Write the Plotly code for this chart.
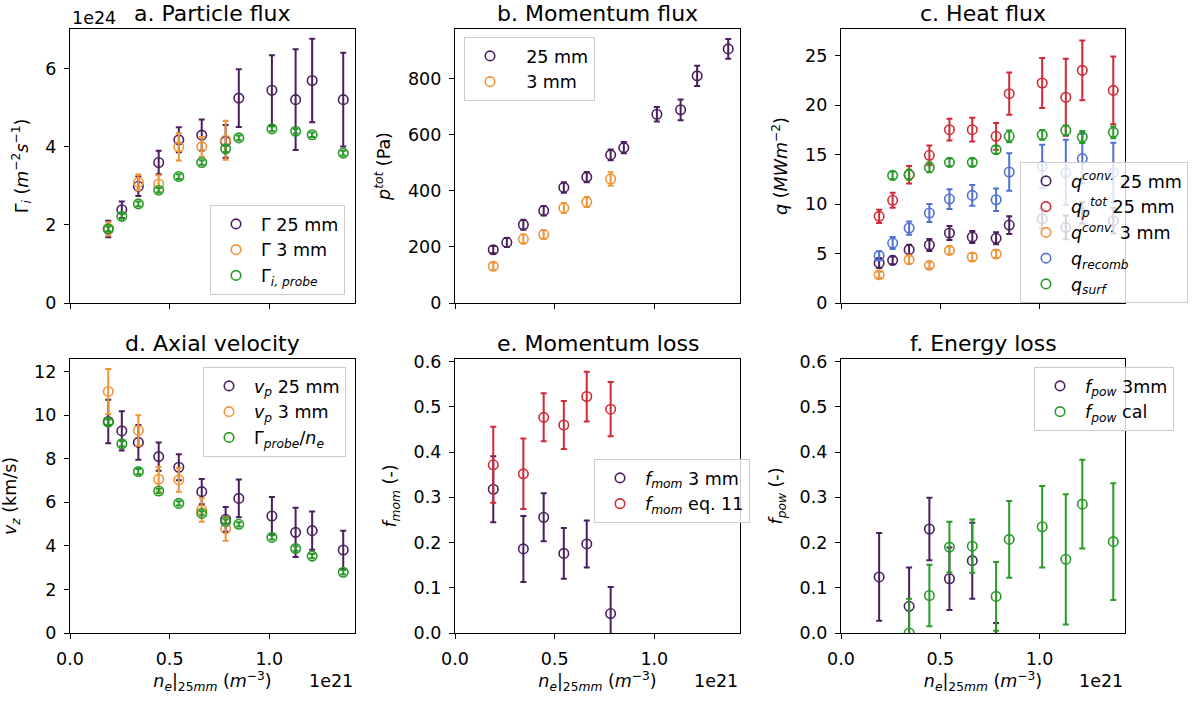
import plotly.graph_objects as go

# ---------------------------------------------------------------------------
# Electron density at 25 mm (units of 1e21 m^-3) for each discharge
ne_25mm = [0.192, 0.260, 0.343, 0.445, 0.546, 0.661, 0.781, 0.847, 1.013, 1.132, 1.215, 1.371]
ne_3mm = [0.192, 0.343, 0.445, 0.546, 0.661, 0.781]
ne_surf = [0.260, 0.343, 0.445, 0.546, 0.661, 0.781, 0.847, 1.013, 1.132, 1.215, 1.371]
ne_cal = [0.343, 0.445, 0.546, 0.661, 0.781, 0.847, 1.013, 1.132, 1.215, 1.371]

# a. Particle flux (units of 1e24 m^-2 s^-1)
gamma_25 = [1.895, 2.39, 2.99, 3.60, 4.18, 4.30, 4.14, 5.25, 5.45, 5.21, 5.70, 5.21]
gamma_25_err = [0.21, 0.21, 0.25, 0.30, 0.32, 0.40, 0.42, 0.74, 0.90, 1.29, 1.07, 1.20]
gamma_3 = [1.90, 3.09, 3.05, 4.00, 4.00, 4.17]
gamma_3_err = [0.17, 0.20, 0.22, 0.35, 0.25, 0.50]
gamma_probe = [1.90, 2.22, 2.54, 2.89, 3.24, 3.60, 3.95, 4.23, 4.46, 4.40, 4.31, 3.84]
gamma_probe_err = [0.06, 0.06, 0.06, 0.06, 0.06, 0.06, 0.08, 0.06, 0.06, 0.06, 0.06, 0.06]

# b. Momentum flux (Pa)
ptot_25 = [190, 216, 279, 329, 412, 449, 528, 554, 673, 689, 810, 906]
ptot_25_err = [13, 16, 18, 17, 19, 18, 19, 20, 26, 37, 36, 35]
ptot_3 = [131, 228, 244, 339, 360, 442]
ptot_3_err = [13, 16, 15, 18, 18, 24]

# c. Heat flux (MW m^-2)
qconv_25 = [4.04, 4.31, 5.39, 5.86, 7.08, 6.67, 6.54, 7.88, 8.52, 7.65, 9.10, 8.32]
qconv_25_err = [0.5, 0.4, 0.5, 0.6, 0.7, 0.6, 0.6, 0.9, 1.0, 1.2, 1.1, 1.3]
qtot_25 = [8.76, 10.38, 12.97, 14.93, 17.52, 17.52, 16.85, 21.16, 22.24, 20.8, 23.52, 21.5]
qtot_25_err = [0.67, 0.76, 0.88, 1.0, 1.1, 1.2, 1.35, 2.14, 2.53, 3.9, 3.03, 3.43]
qconv_3 = [2.86, 4.38, 3.81, 5.32, 4.65, 4.95]
qconv_3_err = [0.3, 0.4, 0.3, 0.4, 0.4, 0.4]
qrecomb = [4.78, 6.06, 7.58, 9.10, 10.51, 10.88, 10.44, 13.24, 13.8, 13.2, 14.6, 13.2]
qrecomb_err = [0.45, 0.6, 0.67, 0.9, 1.0, 1.06, 1.13, 1.89, 2.2, 3.3, 2.5, 3.0]
qsurf = [12.9, 12.97, 13.71, 14.22, 14.22, 15.5, 16.85, 17.0, 17.45, 16.78, 17.25]
qsurf_err = [0.4, 0.5, 0.5, 0.4, 0.4, 0.4, 0.6, 0.5, 0.5, 0.6, 0.6]

# d. Axial velocity (km/s)
vp_25 = [9.71, 9.28, 8.75, 8.10, 7.61, 6.49, 5.22, 6.18, 5.37, 4.62, 4.70, 3.81]
vp_25_err = [1.0, 0.9, 0.8, 0.65, 0.6, 0.58, 0.57, 0.87, 0.87, 1.13, 0.88, 0.88]
vp_3 = [11.09, 9.30, 7.06, 7.03, 5.65, 4.78]
vp_3_err = [1.03, 0.7, 0.57, 0.55, 0.54, 0.55]
v_probe = [9.68, 8.69, 7.41, 6.52, 5.95, 5.49, 5.11, 4.99, 4.39, 3.88, 3.53, 2.79]
v_probe_err = [0.12, 0.12, 0.12, 0.1, 0.1, 0.1, 0.1, 0.1, 0.1, 0.1, 0.1, 0.1]

# e. Momentum loss (-)
fmom_3 = [0.318, 0.186, 0.256, 0.176, 0.197, 0.043]
fmom_3_err = [0.073, 0.073, 0.053, 0.056, 0.052, 0.059]
fmom_eq11 = [0.372, 0.352, 0.477, 0.460, 0.523, 0.495]
fmom_eq11_err = [0.084, 0.078, 0.053, 0.053, 0.055, 0.060]

# f. Energy loss (-)
fpow_3 = [0.124, 0.059, 0.230, 0.120, 0.160, -0.050]
fpow_3_err = [0.097, 0.086, 0.069, 0.069, 0.084, 0.072]
fpow_cal = [0.0, 0.083, 0.190, 0.192, 0.081, 0.207, 0.235, 0.163, 0.285, 0.202]
fpow_cal_err = [0.076, 0.068, 0.056, 0.059, 0.076, 0.085, 0.090, 0.144, 0.098, 0.129]

# ---------------------------------------------------------------------------
PURPLE = "#4b1e5e"
ORANGE = "#ef9438"
GREEN = "#279a27"
RED = "#cf2a36"
BLUE = "#4f72d3"

FONT = "DejaVu Sans"
W, H = 1199, 701

# panel frames in pixels: (left, right, top, bottom)
cols = [(70, 355), (455, 740), (841, 1125)]
rows = [(29, 303), (359, 633)]


def xdom(c):
    return [cols[c][0] / W, cols[c][1] / W]


def ydom(r):
    return [1 - rows[r][1] / H, 1 - rows[r][0] / H]


fig = go.Figure()


def add(panel, x, y, err, name, color, legend):
    suf = "" if panel == 1 else str(panel)
    fig.add_trace(go.Scatter(
        x=x, y=y, name=name, mode="markers",
        xaxis="x" + suf, yaxis="y" + suf,
        legend=legend,
        marker=dict(symbol="circle-open", size=9.5, color=color,
                    line=dict(width=1.6, color=color)),
        error_y=dict(type="data", array=err, visible=True, color=color,
                     thickness=2, width=3),
    ))


add(1, ne_25mm, gamma_25, gamma_25_err, "Γ 25 mm", PURPLE, "legend")
add(1, ne_3mm, gamma_3, gamma_3_err, "Γ 3 mm", ORANGE, "legend")
add(1, ne_25mm, gamma_probe, gamma_probe_err, "Γ<sub><i>i, probe</i></sub>", GREEN, "legend")

add(2, ne_25mm, ptot_25, ptot_25_err, "  25 mm", PURPLE, "legend2")
add(2, ne_3mm, ptot_3, ptot_3_err, "  3 mm", ORANGE, "legend2")

add(3, ne_25mm, qconv_25, qconv_25_err, "<i>q</i><sup><i>conv.</i></sup> 25 mm", PURPLE, "legend3")
add(3, ne_25mm, qtot_25, qtot_25_err, "<i>q</i><sub><i>p</i></sub><sup><i>tot</i></sup> 25 mm", RED, "legend3")
add(3, ne_3mm, qconv_3, qconv_3_err, "<i>q</i><sup><i>conv.</i></sup> 3 mm", ORANGE, "legend3")
add(3, ne_25mm, qrecomb, qrecomb_err, "<i>q</i><sub><i>recomb</i></sub>", BLUE, "legend3")
add(3, ne_surf, qsurf, qsurf_err, "<i>q</i><sub><i>surf</i></sub>", GREEN, "legend3")

add(4, ne_25mm, vp_25, vp_25_err, "<i>v</i><sub><i>p</i></sub> 25 mm", PURPLE, "legend4")
add(4, ne_3mm, vp_3, vp_3_err, "<i>v</i><sub><i>p</i></sub> 3 mm", ORANGE, "legend4")
add(4, ne_25mm, v_probe, v_probe_err, "Γ<sub><i>probe</i></sub>/<i>n</i><sub><i>e</i></sub>", GREEN, "legend4")

add(5, ne_3mm, fmom_3, fmom_3_err, "<i>f</i><sub><i>mom</i></sub> 3 mm", PURPLE, "legend5")
add(5, ne_3mm, fmom_eq11, fmom_eq11_err, "<i>f</i><sub><i>mom</i></sub> eq. 11", RED, "legend5")

add(6, ne_3mm, fpow_3, fpow_3_err, "<i>f</i><sub><i>pow</i></sub> 3mm", PURPLE, "legend6")
add(6, ne_cal, fpow_cal, fpow_cal_err, "<i>f</i><sub><i>pow</i></sub> cal", GREEN, "legend6")

# ---------------------------------------------------------------------------
TICK = 17.5
axis_common = dict(
    showline=True, mirror=True, linecolor="black", linewidth=1.2,
    ticks="outside", ticklen=5, tickwidth=1.2, tickcolor="black",
    showgrid=False, zeroline=False, automargin=False,
    tickfont=dict(family=FONT, size=TICK, color="black"),
)

x_label = "<i>n</i><sub><i>e</i></sub>|<sub>25<i>mm</i></sub> (<i>m</i><sup>−3</sup>)"
y_labels = [
    "Γ<sub><i>i</i></sub> (<i>m</i><sup>−2</sup><i>s</i><sup>−1</sup>)",
    "<i>p</i><sup><i>tot</i></sup> (Pa)",
    "<i>q</i> (<i>MWm</i><sup>−2</sup>)",
    "<i>v</i><sub><i>z</i></sub> (km/s)",
    "<i>f</i><sub><i>mom</i></sub> (-)",
    "<i>f</i><sub><i>pow</i></sub> (-)",
]
y_ranges = [[0, 7.02], [0, 977], [0, 27.7], [0, 12.58], [0, 0.606], [0, 0.606]]
y_ticks = [
    [0, 2, 4, 6],
    [0, 200, 400, 600, 800],
    [0, 5, 10, 15, 20, 25],
    [0, 2, 4, 6, 8, 10, 12],
    [0, 0.1, 0.2, 0.3, 0.4, 0.5, 0.6],
    [0, 0.1, 0.2, 0.3, 0.4, 0.5, 0.6],
]
y_fmt = ["d", "d", "d", "d", ".1f", ".1f"]
titles = ["a. Particle flux", "b. Momentum flux", "c. Heat flux",
          "d. Axial velocity", "e. Momentum loss", "f. Energy loss"]

layout = dict(
    width=W, height=H,
    margin=dict(l=0, r=0, t=0, b=0),
    paper_bgcolor="white", plot_bgcolor="white",
    font=dict(family=FONT, size=TICK, color="black"),
    showlegend=True,
)

annotations = []
for i in range(6):
    r, c = divmod(i, 3)
    suf = "" if i == 0 else str(i + 1)
    xa = dict(axis_common)
    xa.update(domain=xdom(c), range=[0, 1.43], anchor="y" + suf,
              tickvals=[0, 0.5, 1.0], tickformat=".1f",
              showticklabels=(r == 1), ticklabelstandoff=5)
    if r == 1:
        xa["title"] = dict(text=x_label, font=dict(family=FONT, size=TICK), standoff=5)
    ya = dict(axis_common)
    ya.update(domain=ydom(r), range=y_ranges[i], anchor="x" + suf,
              tickvals=y_ticks[i], tickformat=y_fmt[i], ticklabelstandoff=4,
              title=dict(text=y_labels[i], font=dict(family=FONT, size=TICK), standoff=12))
    layout["xaxis" + suf] = xa
    layout["yaxis" + suf] = ya

    # panel title
    annotations.append(dict(
        text=titles[i], xref="paper", yref="paper",
        x=(cols[c][0] + cols[c][1]) / 2 / W, y=1 - rows[r][0] / H,
        xanchor="center", yanchor="bottom", yshift=1, showarrow=False,
        font=dict(family=FONT, size=22, color="black"),
    ))
    # axis offset label for density
    if r == 1:
        annotations.append(dict(
            text="1e21", xref="paper", yref="paper",
            x=cols[c][1] / W, y=1 - 681 / H,
            xanchor="right", yanchor="middle", showarrow=False,
            font=dict(family=FONT, size=TICK, color="black"),
        ))

annotations.append(dict(
    text="1e24", xref="paper", yref="paper",
    x=cols[0][0] / W, y=1 - rows[0][0] / H,
    xanchor="left", yanchor="bottom", yshift=-1, showarrow=False,
    font=dict(family=FONT, size=TICK, color="black"),
))
layout["annotations"] = annotations

legend_style = dict(
    bgcolor="rgba(255,255,255,0.8)", bordercolor="#cccccc", borderwidth=1,
    font=dict(family=FONT, size=TICK, color="black"),
    xref="paper", yref="paper", tracegroupgap=0, itemwidth=40,
)
layout["legend"] = dict(legend_style, x=345 / W, y=1 - 295 / H, xanchor="right", yanchor="bottom")
layout["legend2"] = dict(legend_style, x=464 / W, y=1 - 37 / H, xanchor="left", yanchor="top")
layout["legend3"] = dict(legend_style, x=1020 / W, y=1 - 162 / H, xanchor="left", yanchor="top")
layout["legend4"] = dict(legend_style, x=346 / W, y=1 - 367 / H, xanchor="right", yanchor="top")
layout["legend5"] = dict(legend_style, x=750 / W, y=1 - 491 / H, xanchor="right", yanchor="middle")
layout["legend6"] = dict(legend_style, x=1034 / W, y=1 - 367 / H, xanchor="left", yanchor="top")

fig.update_layout(**layout)
fig.write_html("out.html")
